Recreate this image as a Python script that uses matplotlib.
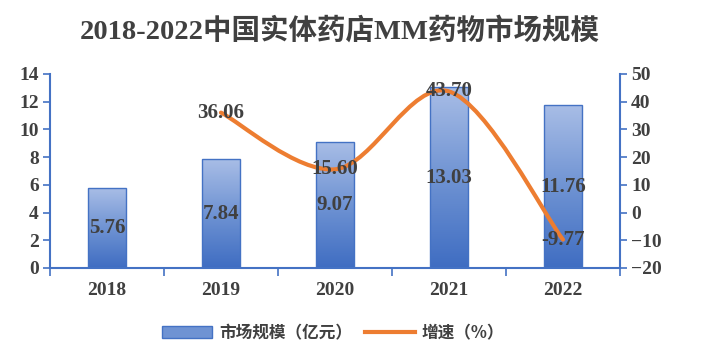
import numpy as np
import matplotlib.pyplot as plt
from matplotlib.path import Path
from matplotlib.patches import PathPatch, Rectangle
from matplotlib.lines import Line2D
from matplotlib.colors import LinearSegmentedColormap

years = ['2018', '2019', '2020', '2021', '2022']
market = [5.76, 7.84, 9.07, 13.03, 11.76]
growth_years = ['2019', '2020', '2021', '2022']
growth = [36.06, 15.60, 43.70, -9.77]

serif = ['Liberation Serif', 'Noto Sans CJK SC']
cjk = ['Noto Sans CJK SC', 'DejaVu Sans']
txt_col = '#404040'
axis_col = '#4472C4'
line_col = '#ED7D31'

fig = plt.figure(figsize=(7.2, 3.6), dpi=100)
ax = fig.add_axes([0.0694, 0.2556, 0.7917, 0.5389])
ax2 = ax.twinx()

x = np.arange(len(years))
bw = 0.33
cmap = LinearSegmentedColormap.from_list('bar', ['#3F6DC2', '#6F93D3', '#A8BDE6'])
grad = np.linspace(0, 1, 256).reshape(-1, 1)
bars = ax.bar(x, market, width=bw, color='none', edgecolor=axis_col, linewidth=1.0, zorder=3)
for b in bars:
    x0, y0 = b.get_x(), b.get_y()
    w, h = b.get_width(), b.get_height()
    im = ax.imshow(grad, cmap=cmap, aspect='auto', origin='lower',
                   extent=[x0, x0 + w, y0, y0 + h], zorder=2)
    im.set_clip_path(b)

ax.set_xlim(-0.5, len(years) - 0.5)
ax.set_ylim(0, 14)
ax.set_yticks(range(0, 15, 2))
ax.set_xticks(x)
ax.set_xticklabels(years)
ax.set_xticks(np.arange(-0.5, len(years)), minor=True)
ax.tick_params(axis='x', which='major', length=0, pad=10)
ax.tick_params(axis='x', which='minor', length=6, width=1.2, color=axis_col, direction='out')
ax.tick_params(axis='y', length=5, width=1.2, color=axis_col, direction='out', pad=3)
for lab in ax.get_xticklabels() + ax.get_yticklabels():
    lab.set_family(serif)
    lab.set_fontweight('bold')
    lab.set_fontsize(14)
    lab.set_color(txt_col)

for s in ['top', 'right']:
    ax.spines[s].set_visible(False)
ax.spines['left'].set_color(axis_col)
ax.spines['bottom'].set_color(axis_col)
ax.spines['left'].set_linewidth(1.5)
ax.spines['bottom'].set_linewidth(1.5)

ax2.set_ylim(-20, 50)
ax2.set_yticks(range(-20, 51, 10))
ax2.tick_params(axis='y', length=5, width=1.2, color=axis_col, direction='out', pad=3)
for lab in ax2.get_yticklabels():
    lab.set_family(serif)
    lab.set_fontweight('bold')
    lab.set_fontsize(14)
    lab.set_color(txt_col)
for s in ['top', 'left', 'bottom']:
    ax2.spines[s].set_visible(False)
ax2.spines['right'].set_color(axis_col)
ax2.spines['right'].set_linewidth(1.5)

# smoothed growth line (Catmull-Rom as cubic Bezier segments)
gx = np.array([years.index(y) for y in growth_years], dtype=float)
gy = np.array(growth, dtype=float)
pts = np.column_stack([gx, gy])
ext = np.vstack([pts[0], pts, pts[-1]])
verts = [tuple(pts[0])]
codes = [Path.MOVETO]
t = 0.5
for i in range(1, len(ext) - 2):
    p0, p1, p2, p3 = ext[i - 1], ext[i], ext[i + 1], ext[i + 2]
    c1 = p1 + (p2 - p0) * t / 3
    c2 = p2 - (p3 - p1) * t / 3
    verts += [tuple(c1), tuple(c2), tuple(p2)]
    codes += [Path.CURVE4] * 3
ax2.add_patch(PathPatch(Path(verts, codes), facecolor='none', edgecolor=line_col,
                        linewidth=3, capstyle='round', zorder=4))

for xi, v in zip(x, market):
    ax.text(xi, v / 2, f'{v:.2f}', ha='center', va='center', family=serif,
            fontweight='bold', fontsize=15, color=txt_col, zorder=6)
for xi, v in zip(gx, gy):
    ax2.text(xi, v, f'{v:.2f}', ha='center', va='center', family=serif,
             fontweight='bold', fontsize=15, color=txt_col, zorder=6)
ax2.set_zorder(ax.get_zorder() + 1)

fig.text(0.472, 0.915, '2018-2022中国实体药店MM药物市场规模', ha='center', va='center',
         family=serif, fontweight='bold', fontsize=20.5, color=txt_col)

# legend
h1 = Rectangle((0, 0), 1, 1, facecolor='#6F93D3', edgecolor=axis_col)
h2 = Line2D([], [], color=line_col, linewidth=3)
fig.legend([h1, h2], ['市场规模（亿元）', '增速（%）'], loc='center', bbox_to_anchor=(0.463, 0.075),
           ncol=2, frameon=False, prop={'family': cjk, 'size': 12, 'weight': 'bold'},
           handlelength=3.0, handleheight=0.7, columnspacing=0.8, handletextpad=0.4,
           labelcolor=txt_col)

fig.savefig('out.png', dpi=100)
